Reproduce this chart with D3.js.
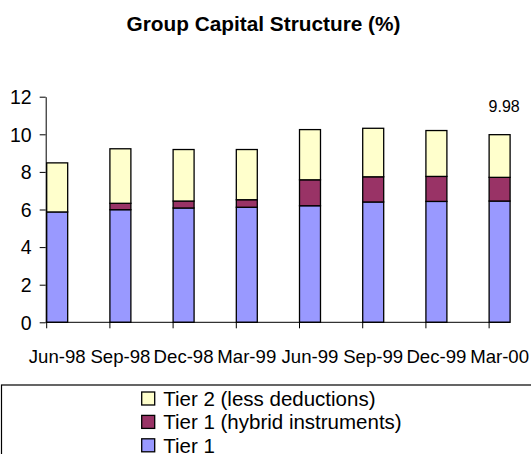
<!DOCTYPE html>
<html>
<head>
<meta charset="utf-8">
<script src="https://cdn.jsdelivr.net/npm/d3@7"></script>
<style>
  body { margin: 0; background: #fff; }
  text { font-family: "Liberation Sans", Arial, sans-serif; fill: #000; }
</style>
</head>
<body>
<div id="chart"></div>
<script>
(function () {
  "use strict";

  var categories = ["Jun-98", "Sep-98", "Dec-98", "Mar-99", "Jun-99", "Sep-99", "Dec-99", "Mar-00"],
    tier1 = [5.87, 5.99, 6.08, 6.12, 6.20, 6.40, 6.43, 6.45],
    hybrid = [0.00, 0.34, 0.37, 0.40, 1.38, 1.34, 1.33, 1.26],
    tier2 = [2.61, 2.90, 2.74, 2.67, 2.67, 2.58, 2.44, 2.27],
    yTicks = [0, 2, 4, 6, 8, 10, 12],
    seriesNames = ["Tier 1", "Tier 1 (hybrid instruments)", "Tier 2 (less deductions)"],
    lastLabel = "9.98";

  var w = 531,
    h = 454,
    colors = d3.scaleOrdinal().domain(["tier1", "hybrid", "tier2"]).range(["#9999ff", "#993366", "#ffffcc"]);

  var svg = d3.select("#chart")
    .append("svg")
    .attr("width", w)
    .attr("height", h);

  var rows = categories.map(function (c, i) {
    return { cat: c, tier1: tier1[i], hybrid: hybrid[i], tier2: tier2[i] };
  });

  var stack = d3.stack().keys(["tier1", "hybrid", "tier2"])(rows);

  // bars sit at the left edge of each category slot (step ~63px, bar 21px)
  var x = d3.scaleBand()
    .domain(categories)
    .range([46.7, 510.1])
    .paddingInner(0.668)
    .paddingOuter(0)
    .align(0);

  var y = d3.scaleLinear().domain([0, 12]).range([322.3, 96.7]);

  // title
  svg.append("text")
    .attr("x", 263.5)
    .attr("y", 31)
    .attr("text-anchor", "middle")
    .style("font-weight", "bold")
    .style("font-size", "20.8px")
    .text("Group Capital Structure (%)");

  // bars
  svg.selectAll(".layer")
    .data(stack)
    .enter().append("g")
    .attr("class", "layer")
    .attr("fill", function (d) { return colors(d.key); })
    .selectAll("rect")
    .data(function (d) { return d; })
    .enter().append("rect")
    .attr("x", function (d) { return x(d.data.cat); })
    .attr("width", x.bandwidth())
    .attr("y", function (d) { return y(d[1]); })
    .attr("height", function (d) { return y(d[0]) - y(d[1]); })
    .attr("stroke", "#000")
    .attr("stroke-width", 1.3);

  // y axis
  var yAxis = svg.append("g")
    .attr("transform", "translate(45.7,0)")
    .call(d3.axisLeft(y).tickValues(yTicks).tickSize(6).tickPadding(8).tickSizeOuter(0));
  yAxis.select(".domain").attr("stroke", "#000");
  yAxis.selectAll(".tick line").attr("stroke", "#000");
  yAxis.selectAll("text").style("font-size", "19.5px").attr("dy", "0.35em");

  // x axis: ticks at category boundaries
  var xAxis = svg.append("g");
  xAxis.append("line")
    .attr("x1", 45.7).attr("x2", 510)
    .attr("y1", y(0)).attr("y2", y(0))
    .attr("stroke", "#000");
  xAxis.selectAll(".xt")
    .data(categories)
    .enter().append("line")
    .attr("class", "xt")
    .attr("x1", function (d) { return x(d); })
    .attr("x2", function (d) { return x(d); })
    .attr("y1", y(0)).attr("y2", y(0) + 6)
    .attr("stroke", "#000");
  xAxis.selectAll(".xl")
    .data(categories)
    .enter().append("text")
    .attr("class", "xl")
    .attr("x", function (d) { return x(d) + x.bandwidth() / 2; })
    .attr("y", y(0) + 41)
    .attr("text-anchor", "middle")
    .style("font-size", "18.6px")
    .text(function (d) { return d; });

  // data label on last bar
  var lastTop = stack[2][categories.length - 1][1];
  svg.append("text")
    .attr("x", x(categories[categories.length - 1]) + 15)
    .attr("y", y(lastTop) - 22.5)
    .attr("text-anchor", "middle")
    .style("font-size", "16px")
    .text(lastLabel);

  // legend (box runs off the right and bottom edges like the original)
  var legend = svg.append("g");
  legend.append("rect")
    .attr("x", 1.5).attr("y", 385)
    .attr("width", w + 10).attr("height", 100)
    .attr("fill", "none")
    .attr("stroke", "#000")
    .attr("stroke-width", 1.2);

  var legendKeys = ["tier2", "hybrid", "tier1"],
    legendNames = [seriesNames[2], seriesNames[1], seriesNames[0]];

  var items = legend.selectAll(".item")
    .data(legendKeys)
    .enter().append("g")
    .attr("class", "item")
    .attr("transform", function (d, i) { return "translate(141.7," + (398.5 + i * 23.4) + ")"; });

  items.append("rect")
    .attr("x", 0).attr("y", -6.5)
    .attr("width", 13).attr("height", 13)
    .attr("fill", function (d) { return colors(d); })
    .attr("stroke", "#000")
    .attr("stroke-width", 1.3);

  items.append("text")
    .attr("x", 21.5)
    .attr("y", 0)
    .attr("dy", "0.36em")
    .style("font-size", "20.5px")
    .text(function (d, i) { return legendNames[i]; });
})();
</script>
</body>
</html>
